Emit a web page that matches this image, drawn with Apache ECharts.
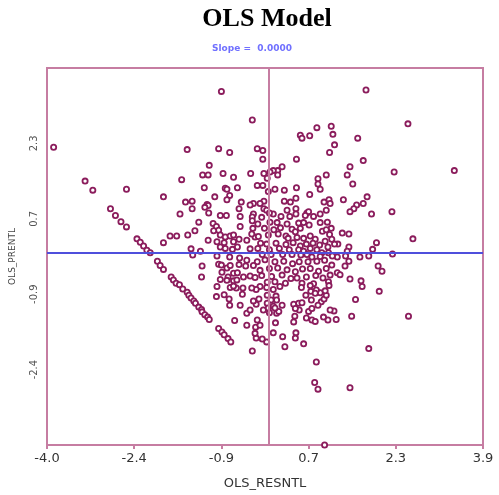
<!DOCTYPE html>
<html>
<head>
<meta charset="utf-8">
<title>OLS Model</title>
<script src="https://cdn.jsdelivr.net/npm/echarts@6/dist/echarts.min.js"></script>
<style>
  html, body { margin: 0; padding: 0; background: #fff; }
  #chart { width: 499px; height: 495px; }
</style>
</head>
<body>
<div id="chart"></div>
<script>
// Axis range and tick positions shared by both axes
const axisMin = -4.02;
const axisMax = 3.88;
const xTicks = [-4.02, -2.44, -0.86, 0.72, 2.30, 3.88];
const yTicks = [-2.44, -0.86, 0.72, 2.30];

// Fitted line through the scatter
const slope = 0;
const intercept = 0;
const meanResid = 0;

// Residuals on the left side of the plot [OLS_RESNTL, OLS_PRENTL]
const leftPoints = [
  [-3.90,2.22],[-0.86,3.39],[-1.48,2.17],[-0.91,2.19],[-0.71,2.11],[-3.33,1.51],[-3.19,1.32],[-2.58,1.34],[-1.58,1.54],[-1.08,1.84],
  [-1.20,1.64],[-1.10,1.64],[-0.83,1.67],[-0.64,1.59],[-1.17,1.37],[-0.79,1.36],[-0.76,1.34],[-0.57,1.37],[-1.91,1.18],[-0.98,1.18],
  [-0.71,1.21],[-0.76,1.12],[-1.51,1.07],[-1.39,1.09],[-1.39,0.93],[-1.12,1.02],[-1.10,1.00],[-0.50,1.07],[-1.16,0.96],[-0.54,0.93],
  [-1.61,0.82],[-1.09,0.84],[-0.88,0.79],[-0.77,0.79],[-0.52,0.77],[-2.87,0.93],[-2.78,0.79],[-2.68,0.66],[-2.58,0.55],[-1.27,0.65],
  [-1.01,0.62],[-0.95,0.56],[-0.52,0.56],[-1.34,0.47],[-1.47,0.38],[-1.79,0.36],[-1.67,0.36],[-1.91,0.22],[-2.39,0.30],[-2.33,0.23],
  [-2.27,0.15],[-2.21,0.06],[-2.15,0.01],[-1.10,0.27],[-0.91,0.48],[-0.88,0.38],[-0.79,0.34],[-0.70,0.36],[-0.64,0.38],[-0.81,0.22],
  [-0.64,0.24],[-0.57,0.13],[-1.41,0.09],[-1.24,0.04],[-0.88,0.13],[-0.79,0.10],[-0.94,-0.06],[-0.66,0.08],
  [-2.02,-0.17],[-1.97,-0.26],[-1.91,-0.34],[-1.77,-0.50],[-1.73,-0.56],[-1.68,-0.63],[-1.62,-0.66],[-1.56,-0.75],[-1.48,-0.82],[-1.45,-0.88],
  [-1.41,-0.94],[-1.36,-1.00],[-1.33,-1.05],[-1.27,-1.13],[-1.22,-1.18],[-1.21,-1.23],[-1.16,-1.29],[-1.11,-1.34],[-1.08,-1.39],
  [-0.91,-1.58],[-0.85,-1.65],[-0.81,-1.71],[-0.74,-1.79],[-0.69,-1.86],
  [-1.38,-0.04],[-1.21,-0.27],[-1.22,-0.50],[-0.91,-0.23],[-0.88,-0.55],[-0.94,-0.70],[-0.95,-0.91],[-0.81,-0.87],[-0.72,-0.96],[-0.71,-1.09],
  [-0.62,-1.41],[-0.76,-0.31],[-0.70,-0.26],[-0.54,-0.24],[-0.64,-0.42],[-0.57,-0.41],[-0.74,-0.50],[-0.64,-0.58],[-0.58,-0.56],[-0.70,-0.72],
  [-0.59,-0.73],[-0.53,-0.10],[-0.71,-0.08],[-0.85,-0.40],
  [-0.54,0.29],[-0.94,0.24],[-1.00,0.47],[-0.86,-0.25],[-0.76,-0.57],[-0.64,-0.69]
];

// Upper right part of the cloud
const upperPoints = [
  [1.76,3.42],[-0.30,2.79],[2.52,2.71],[1.13,2.66],[0.87,2.63],[0.57,2.47],[0.60,2.41],[0.74,2.46],[1.16,2.49],[1.61,2.41],
  [1.19,2.27],[1.10,2.11],[-0.21,2.19],[-0.11,2.15],[-0.11,1.97],[0.50,1.97],[1.71,1.94],[3.36,1.73],[2.27,1.70],[1.47,1.81],
  [1.42,1.64],[1.52,1.45],[0.24,1.81],[0.16,1.73],[0.08,1.73],[0.02,1.70],[-0.09,1.67],[-0.03,1.57],[0.16,1.64],[-0.33,1.67],
  [0.89,1.56],[1.04,1.64],[0.89,1.45],[0.93,1.34],[0.50,1.37],[0.28,1.32],[0.11,1.34],[-0.01,1.29],[-0.21,1.42],[-0.11,1.42],
  [0.74,1.23],[0.49,1.15],[0.28,1.09],[0.39,1.07],[1.35,1.12],[1.78,1.18],[1.71,1.04],[1.59,1.01],[1.54,0.93],[1.47,0.87],
  [1.09,1.12],[1.11,1.04],[1.00,1.07],[1.04,0.90],[0.93,0.82],[0.49,0.93],[0.49,0.82],[0.33,0.90],[0.69,0.84],[0.72,0.87],
  [0.66,0.79],[1.86,0.82],[2.23,0.87],[0.08,0.82],[-0.09,1.09],[-0.16,1.04],[-0.28,1.04],[-0.34,1.01],[-0.09,0.93],[-0.04,0.90],
  [0.01,0.84],[-0.28,0.82],[-0.30,0.76],[-0.30,0.68],[1.33,0.42],[1.45,0.40],[1.95,0.22],[2.61,0.30],[1.88,0.08],
  [1.81,-0.06],[1.65,-0.08],[2.24,-0.02],[1.25,0.19],[1.45,0.13],[1.42,0.04],[1.39,-0.06],[1.24,-0.08],[-0.25,0.34],[-0.40,0.27],
  [-0.34,0.09],[-0.29,0.52],[-0.31,0.40]
];

// Dense core around the origin
const corePoints = [
  [-0.13,0.75],[0.22,0.77],[0.38,0.77],[0.81,0.77],
  [-0.20,0.61],[0.02,0.65],[0.15,0.64],[0.33,0.61],[0.54,0.63],[0.63,0.64],[0.73,0.59],[0.93,0.64],[1.06,0.65],[1.13,0.52],
  [-0.08,0.52],[0.09,0.49],[0.21,0.53],[0.42,0.50],[0.48,0.45],[0.57,0.52],[0.75,0.36],[0.97,0.46],[1.04,0.49],[1.10,0.39],
  [-0.19,0.35],[-0.01,0.38],[0.17,0.40],[0.31,0.36],[0.35,0.31],[0.51,0.33],[0.63,0.31],[0.84,0.29],[1.02,0.25],[1.14,0.29],
  [-0.15,0.21],[-0.04,0.19],[0.13,0.21],[0.31,0.18],[0.44,0.22],[0.57,0.15],[0.68,0.19],[0.80,0.21],[0.92,0.17],[1.07,0.13],[1.19,0.19],
  [-0.20,0.10],[0.01,0.07],[0.19,0.10],[0.37,0.07],[0.54,0.07],[0.63,0.04],[0.75,0.10],[0.87,0.07],[0.96,0.01],[1.08,0.01],
  [-0.12,-0.03],[0.04,-0.03],[0.25,-0.03],[0.42,-0.03],[0.58,-0.04],[0.69,-0.03],[0.78,-0.08],[0.93,-0.07],[1.15,-0.06],
  [-0.21,-0.18],[-0.07,-0.14],[0.11,-0.18],[0.27,-0.17],[0.43,-0.22],[0.55,-0.18],[0.71,-0.18],[0.87,-0.17],[1.01,-0.15],[1.14,-0.25],
  [-0.16,-0.36],[0.01,-0.32],[0.16,-0.31],[0.33,-0.35],[0.48,-0.39],[0.61,-0.33],[0.75,-0.32],[0.90,-0.38],[1.04,-0.32],
  [-0.13,-0.47],[0.05,-0.49],[0.24,-0.46],[0.40,-0.53],[0.51,-0.52],[0.68,-0.50],[0.85,-0.47],[0.98,-0.52],[1.11,-0.46],
  [-0.03,-0.61],[0.11,-0.60],[0.30,-0.63],[0.60,-0.63],[0.81,-0.64],[1.08,-0.60]
];

// Lower part of the cloud
const lowerPoints = [
  [1.98,-0.27],[2.05,-0.38],[1.47,-0.54],[1.67,-0.58],[1.69,-0.70],[2.00,-0.80],[1.57,-0.97],[1.50,-1.32],[2.53,-1.32],[1.81,-2.00],
  [0.86,-2.28],[0.83,-2.71],[0.89,-2.85],[1.47,-2.82],[1.01,-4.02],[1.22,-1.39],[1.18,-1.21],[1.07,-1.40],[0.99,-1.34],[0.78,-1.40],
  [0.68,-1.36],[0.63,-1.90],[0.49,-1.67],[0.48,-1.78],[0.45,-1.44],[0.47,-1.32],[0.25,-1.75],[0.29,-1.96],[0.08,-1.67],[-0.04,-1.86],
  [-0.12,-1.80],[-0.23,-1.78],[-0.25,-1.68],[-0.24,-1.55],[-0.21,-1.40],[-0.40,-1.51],[-0.30,-2.05],[0.12,-1.46],[0.14,-1.26],[0.01,-1.25],
  [-0.10,-1.19],[-0.40,-1.26],[-0.34,-1.19],[-0.52,-1.09],[-0.23,-1.07],[-0.28,-1.00],[-0.18,-0.96],[0.08,-1.11],[0.04,-0.98],[0.24,-1.09],
  [0.18,-1.22],[0.45,-1.07],[0.54,-1.05],[0.60,-1.04],[0.55,-1.19],[0.72,-1.22],[0.78,-1.16],[0.77,-0.98],[0.95,-1.02],[1.00,-0.96],
  [1.04,-0.88],[0.93,-0.83],[1.02,-0.79],[1.09,-0.68],[1.24,-0.41],[1.29,-0.45],[1.38,-0.27],[1.45,-0.17],[0.76,-0.80],
  [0.86,-0.77],[0.59,-0.72],[-0.04,-0.72],[-0.03,-0.88],[0.08,-0.76],[0.13,-0.90],[0.20,-0.70],[-0.16,-0.70],[-0.23,-0.76],[-0.31,-0.73],
  [-0.47,-0.73],[-0.46,-0.50],[-0.34,-0.48],[-0.25,-0.51],[-0.28,-0.26],[-0.42,-0.27],[-0.40,-0.15],
  [-0.03,-1.05],[-0.01,-1.15],[0.14,-0.98],[0.11,-1.15],[-0.16,-1.51],[0.48,-1.16],[0.84,-1.43],[0.75,-0.68],[0.84,-0.84],
  [1.11,-1.19],[0.89,-1.09],[0.67,-0.88],[-0.48,-0.86]
];

const frameColor = '#c67da2';
const pointColor = '#8b1c5c';
const lineBlue = '#4f4fdc';
const labelFont = 'DejaVu Sans';

const chart = echarts.init(document.getElementById('chart'), null, { renderer: 'canvas' });

chart.setOption({
  animation: false,
  backgroundColor: '#fff',
  title: [
    {
      text: 'OLS Model',
      left: 262,
      top: 1,
      textAlign: 'center',
      textStyle: { fontFamily: 'Liberation Serif', fontWeight: 'bold', fontSize: 26, color: '#000' }
    },
    {
      text: 'Slope =  ' + slope.toFixed(4),
      left: 247,
      top: 39,
      textAlign: 'center',
      textStyle: { fontFamily: labelFont, fontWeight: 'bold', fontSize: 9, color: '#7070ff' }
    }
  ],
  grid: {
    left: 47, right: 16, top: 68, bottom: 49,
    show: true, borderColor: frameColor, borderWidth: 2, backgroundColor: '#fff'
  },
  xAxis: {
    type: 'value',
    min: axisMin, max: axisMax,
    name: 'OLS_RESNTL',
    nameLocation: 'middle',
    nameGap: 32,
    nameTextStyle: { fontFamily: labelFont, fontSize: 13, color: '#333' },
    axisLine: { show: true, onZero: false, lineStyle: { color: frameColor, width: 2 } },
    axisTick: { show: true, customValues: xTicks, length: 4, lineStyle: { color: frameColor, width: 2 } },
    axisLabel: {
      customValues: xTicks,
      formatter: v => Number(v).toFixed(1),
      fontFamily: labelFont, fontSize: 13, color: '#333', margin: 7
    },
    splitLine: { show: false }
  },
  yAxis: {
    type: 'value',
    min: axisMin, max: axisMax,
    name: 'OLS_PRENTL',
    nameLocation: 'middle',
    nameRotate: 90,
    nameGap: 30,
    nameTextStyle: { fontFamily: labelFont, fontSize: 9, color: '#444' },
    axisLine: { show: true, onZero: false, lineStyle: { color: frameColor, width: 2 } },
    axisTick: { show: false },
    axisLabel: {
      customValues: yTicks,
      rotate: 90,
      formatter: v => Number(v).toFixed(1),
      fontFamily: labelFont, fontSize: 10, color: '#555', margin: 8
    },
    splitLine: { show: false }
  },
  series: [
    {
      type: 'scatter',
      data: leftPoints.concat(upperPoints, corePoints, lowerPoints),
      symbol: 'circle',
      symbolSize: 5.2,
      itemStyle: { color: '#fff', borderColor: pointColor, borderWidth: 1.8, opacity: 1 },
      emphasis: { disabled: true },
      markLine: {
        silent: true,
        symbol: 'none',
        label: { show: false },
        animation: false,
        data: [
          { xAxis: meanResid, lineStyle: { color: frameColor, width: 2, type: 'solid' } },
          { yAxis: intercept, lineStyle: { color: lineBlue, width: 2, type: 'solid' } }
        ]
      }
    }
  ]
});
</script>
</body>
</html>
